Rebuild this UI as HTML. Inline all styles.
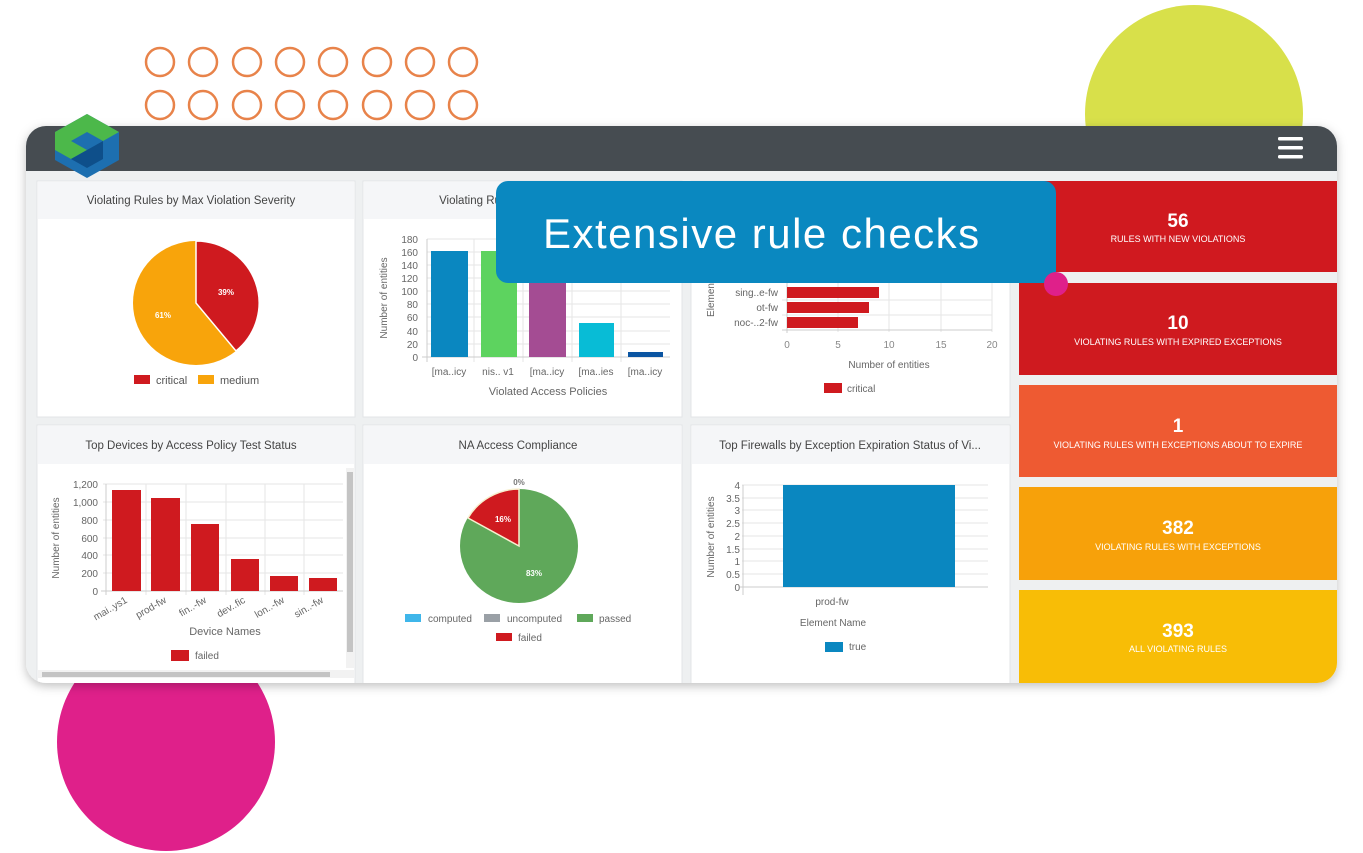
<!DOCTYPE html>
<html><head><meta charset="utf-8"><style>
html,body{margin:0;padding:0;background:#fff;}
svg{display:block;font-family:"Liberation Sans",sans-serif;}
</style></head><body>
<svg width="1363" height="853" viewBox="0 0 1363 853" xmlns="http://www.w3.org/2000/svg">
<defs>
<filter id="sh" x="-5%" y="-5%" width="110%" height="115%"><feDropShadow dx="0" dy="3" stdDeviation="5" flood-color="#000" flood-opacity="0.25"/></filter>
<clipPath id="card"><rect x="26" y="126" width="1311" height="557" rx="20"/></clipPath>
</defs>
<g fill="none" stroke="#e8834a" stroke-width="2.5">
<circle cx="160" cy="62" r="14"/><circle cx="203" cy="62" r="14"/><circle cx="247" cy="62" r="14"/><circle cx="290" cy="62" r="14"/><circle cx="333" cy="62" r="14"/><circle cx="377" cy="62" r="14"/><circle cx="420" cy="62" r="14"/><circle cx="463" cy="62" r="14"/>
<circle cx="160" cy="105" r="14"/><circle cx="203" cy="105" r="14"/><circle cx="247" cy="105" r="14"/><circle cx="290" cy="105" r="14"/><circle cx="333" cy="105" r="14"/><circle cx="377" cy="105" r="14"/><circle cx="420" cy="105" r="14"/><circle cx="463" cy="105" r="14"/>
</g>
<circle cx="1194" cy="114" r="109" fill="#d8e04a"/>
<circle cx="166" cy="742" r="109" fill="#df208a"/>
<rect x="26" y="126" width="1311" height="557" rx="20" fill="#eef0f1" filter="url(#sh)"/>
<g clip-path="url(#card)">
<rect x="26" y="126" width="1311" height="45" fill="#464c51"/>
<g fill="#fff" stroke="#e3e5e7">
<rect x="37" y="181" width="318" height="236"/><rect x="363" y="181" width="319" height="236"/><rect x="691" y="181" width="319" height="236"/>
<rect x="37" y="425" width="318" height="265"/><rect x="363" y="425" width="319" height="265"/><rect x="691" y="425" width="319" height="265"/>
</g>
<g fill="#f5f6f8">
<rect x="38" y="182" width="316" height="37"/><rect x="364" y="182" width="317" height="37"/><rect x="692" y="182" width="317" height="37"/>
<rect x="38" y="426" width="316" height="38"/><rect x="364" y="426" width="317" height="38"/><rect x="692" y="426" width="317" height="38"/>
</g>
<g fill="#444" font-size="11.5" text-anchor="middle">
<text x="191" y="204">Violating Rules by Max Violation Severity</text>
<text x="470" y="204">Violating Ru</text>
<text x="191" y="449">Top Devices by Access Policy Test Status</text>
<text x="518" y="449">NA Access Compliance</text>
<text x="850" y="449">Top Firewalls by Exception Expiration Status of Vi...</text>
</g>
<ellipse cx="196" cy="303" rx="63" ry="62" fill="#f8a40b"/>
<path d="M196,303 L196,241 A63,62 0 0 1 236,351 Z" fill="#cf1a1f" stroke="#fff" stroke-width="1.5"/>
<text x="226" y="295" font-size="8" font-weight="bold" fill="#fff" text-anchor="middle">39%</text>
<text x="163" y="318" font-size="8" font-weight="bold" fill="#fff" text-anchor="middle">61%</text>
<rect x="134" y="375" width="16" height="9" fill="#cf1a1f"/><text x="156" y="384" font-size="11" fill="#555">critical</text>
<rect x="198" y="375" width="16" height="9" fill="#f8a40b"/><text x="220" y="384" font-size="11" fill="#555">medium</text>
<g stroke="#e6e6e6"><line x1="427" y1="239" x2="670" y2="239"/><line x1="427" y1="252" x2="670" y2="252"/><line x1="427" y1="265" x2="670" y2="265"/><line x1="427" y1="278" x2="670" y2="278"/><line x1="427" y1="291" x2="670" y2="291"/><line x1="427" y1="304" x2="670" y2="304"/><line x1="427" y1="317" x2="670" y2="317"/><line x1="427" y1="331" x2="670" y2="331"/><line x1="427" y1="344" x2="670" y2="344"/><line x1="474" y1="239" x2="474" y2="362"/><line x1="523" y1="239" x2="523" y2="362"/><line x1="572" y1="239" x2="572" y2="362"/><line x1="621" y1="239" x2="621" y2="362"/></g>
<line x1="427" y1="239" x2="427" y2="362" stroke="#ccc"/><line x1="422" y1="357" x2="670" y2="357" stroke="#ccc"/>
<g font-size="10" fill="#666" text-anchor="end"><text x="418" y="243">180</text><text x="418" y="256">160</text><text x="418" y="269">140</text><text x="418" y="282">120</text><text x="418" y="295">100</text><text x="418" y="308">80</text><text x="418" y="321">60</text><text x="418" y="335">40</text><text x="418" y="348">20</text><text x="418" y="361">0</text></g>
<rect x="431" y="251" width="37" height="106" fill="#0a87c0"/>
<rect x="481" y="251" width="36" height="106" fill="#5dd35f"/>
<rect x="529" y="251" width="37" height="106" fill="#a44c93"/>
<rect x="579" y="323" width="35" height="34" fill="#08bcd6"/>
<rect x="628" y="352" width="35" height="5" fill="#0b55a2"/>
<g font-size="10" fill="#666" text-anchor="middle"><text x="449" y="375">[ma..icy</text><text x="498" y="375">nis.. v1</text><text x="547" y="375">[ma..icy</text><text x="596" y="375">[ma..ies</text><text x="645" y="375">[ma..icy</text></g>
<text x="548" y="395" font-size="11" fill="#666" text-anchor="middle">Violated Access Policies</text>
<text transform="translate(387,298) rotate(-90)" font-size="10" fill="#666" text-anchor="middle">Number of entities</text>
<g stroke="#e6e6e6"><line x1="838" y1="280" x2="838" y2="332"/><line x1="889" y1="280" x2="889" y2="332"/><line x1="941" y1="280" x2="941" y2="332"/><line x1="992" y1="280" x2="992" y2="332"/><line x1="782" y1="300" x2="992" y2="300"/><line x1="782" y1="315" x2="992" y2="315"/></g>
<line x1="787" y1="280" x2="787" y2="333" stroke="#ccc"/><line x1="782" y1="330" x2="992" y2="330" stroke="#ccc"/>
<rect x="787" y="287" width="92" height="11" fill="#cf1a1f"/>
<rect x="787" y="302" width="82" height="11" fill="#cf1a1f"/>
<rect x="787" y="317" width="71" height="11" fill="#cf1a1f"/>
<g font-size="10" fill="#666" text-anchor="end"><text x="778" y="296">sing..e-fw</text><text x="778" y="311">ot-fw</text><text x="778" y="326">noc-..2-fw</text></g>
<g font-size="10" fill="#888" text-anchor="middle"><text x="787" y="348">0</text><text x="838" y="348">5</text><text x="889" y="348">10</text><text x="941" y="348">15</text><text x="992" y="348">20</text></g>
<text x="889" y="368" font-size="10" fill="#666" text-anchor="middle">Number of entities</text>
<text transform="translate(714,300) rotate(-90)" font-size="10" fill="#666" text-anchor="middle">Elemen</text>
<rect x="824" y="383" width="18" height="10" fill="#cf1a1f"/><text x="847" y="392" font-size="10" fill="#666">critical</text>
<g stroke="#e6e6e6"><line x1="103" y1="484" x2="343" y2="484"/><line x1="103" y1="502" x2="343" y2="502"/><line x1="103" y1="520" x2="343" y2="520"/><line x1="103" y1="538" x2="343" y2="538"/><line x1="103" y1="555" x2="343" y2="555"/><line x1="103" y1="573" x2="343" y2="573"/><line x1="146" y1="484" x2="146" y2="595"/><line x1="186" y1="484" x2="186" y2="595"/><line x1="226" y1="484" x2="226" y2="595"/><line x1="265" y1="484" x2="265" y2="595"/><line x1="304" y1="484" x2="304" y2="595"/></g>
<line x1="106" y1="484" x2="106" y2="595" stroke="#ccc"/><line x1="101" y1="591" x2="343" y2="591" stroke="#ccc"/>
<g font-size="10" fill="#666" text-anchor="end"><text x="98" y="488">1,200</text><text x="98" y="506">1,000</text><text x="98" y="524">800</text><text x="98" y="542">600</text><text x="98" y="559">400</text><text x="98" y="577">200</text><text x="98" y="595">0</text></g>
<g fill="#cf1a1f"><rect x="112" y="490" width="29" height="101"/><rect x="151" y="498" width="29" height="93"/><rect x="191" y="524" width="28" height="67"/><rect x="231" y="559" width="28" height="32"/><rect x="270" y="576" width="28" height="15"/><rect x="309" y="578" width="28" height="13"/></g>
<g font-size="10" fill="#666" text-anchor="end">
<text transform="translate(128,602) rotate(-30)">mai..ys1</text><text transform="translate(167,602) rotate(-30)">prod-fw</text><text transform="translate(207,602) rotate(-30)">fin..-fw</text><text transform="translate(246,602) rotate(-30)">dev..fic</text><text transform="translate(285,602) rotate(-30)">lon..-fw</text><text transform="translate(324,602) rotate(-30)">sin..-fw</text></g>
<text x="225" y="635" font-size="11" fill="#666" text-anchor="middle">Device Names</text>
<text transform="translate(59,538) rotate(-90)" font-size="10" fill="#666" text-anchor="middle">Number of entities</text>
<rect x="171" y="650" width="18" height="11" fill="#cf1a1f"/><text x="195" y="659" font-size="10" fill="#666">failed</text>
<rect x="346" y="468" width="8" height="200" fill="#f2f2f2"/><rect x="347" y="472" width="6" height="180" fill="#c4c4c4"/>
<rect x="38" y="670" width="316" height="8" fill="#f2f2f2"/><rect x="42" y="672" width="288" height="5" fill="#c4c4c4"/>
<ellipse cx="519" cy="546" rx="59" ry="57" fill="#5fa85a"/>
<path d="M519,546 L468,518 A59,57 0 0 1 519,489 Z" fill="#cf1a1f" stroke="#f7f0d0" stroke-width="1.5"/>
<text x="519" y="485" font-size="8" font-weight="bold" fill="#777" text-anchor="middle">0%</text>
<text x="503" y="522" font-size="8" font-weight="bold" fill="#fff" text-anchor="middle">16%</text>
<text x="534" y="576" font-size="8" font-weight="bold" fill="#fff" text-anchor="middle">83%</text>
<rect x="405" y="614" width="16" height="8" fill="#3fb6ea"/><text x="428" y="622" font-size="10" fill="#666">computed</text>
<rect x="484" y="614" width="16" height="8" fill="#9aa0a6"/><text x="507" y="622" font-size="10" fill="#666">uncomputed</text>
<rect x="577" y="614" width="16" height="8" fill="#5fa85a"/><text x="599" y="622" font-size="10" fill="#666">passed</text>
<rect x="496" y="633" width="16" height="8" fill="#cf1a1f"/><text x="518" y="641" font-size="10" fill="#666">failed</text>
<g stroke="#e6e6e6"><line x1="742" y1="485" x2="988" y2="485"/><line x1="742" y1="498" x2="988" y2="498"/><line x1="742" y1="510" x2="988" y2="510"/><line x1="742" y1="523" x2="988" y2="523"/><line x1="742" y1="536" x2="988" y2="536"/><line x1="742" y1="549" x2="988" y2="549"/><line x1="742" y1="561" x2="988" y2="561"/><line x1="742" y1="574" x2="988" y2="574"/></g>
<line x1="743" y1="485" x2="743" y2="595" stroke="#ccc"/><line x1="740" y1="587" x2="988" y2="587" stroke="#ccc"/>
<g font-size="10" fill="#666" text-anchor="end"><text x="740" y="489">4</text><text x="740" y="502">3.5</text><text x="740" y="514">3</text><text x="740" y="527">2.5</text><text x="740" y="540">2</text><text x="740" y="553">1.5</text><text x="740" y="565">1</text><text x="740" y="578">0.5</text><text x="740" y="591">0</text></g>
<rect x="783" y="485" width="172" height="102" fill="#0a87c0"/>
<text x="832" y="605" font-size="10" fill="#666" text-anchor="middle">prod-fw</text>
<text x="833" y="626" font-size="10" fill="#666" text-anchor="middle">Element Name</text>
<text transform="translate(714,537) rotate(-90)" font-size="10" fill="#666" text-anchor="middle">Number of entities</text>
<rect x="825" y="642" width="18" height="10" fill="#0a87c0"/><text x="849" y="650" font-size="10" fill="#666">true</text>
<rect x="1019" y="181" width="318" height="91" fill="#d0191f"/>
<rect x="1019" y="283" width="318" height="92" fill="#cf1a1f"/>
<rect x="1019" y="385" width="318" height="92" fill="#ee5a32"/>
<rect x="1019" y="487" width="318" height="93" fill="#f7a10a"/>
<rect x="1019" y="590" width="318" height="93" fill="#f8bd06"/>
<g fill="#fff" text-anchor="middle">
<text x="1178" y="227" font-size="19" font-weight="bold">56</text><text x="1178" y="242" font-size="9">RULES WITH NEW VIOLATIONS</text>
<text x="1178" y="329" font-size="19" font-weight="bold">10</text><text x="1178" y="345" font-size="9">VIOLATING RULES WITH EXPIRED EXCEPTIONS</text>
<text x="1178" y="432" font-size="19" font-weight="bold">1</text><text x="1178" y="448" font-size="9">VIOLATING RULES WITH EXCEPTIONS ABOUT TO EXPIRE</text>
<text x="1178" y="534" font-size="19" font-weight="bold">382</text><text x="1178" y="550" font-size="9">VIOLATING RULES WITH EXCEPTIONS</text>
<text x="1178" y="637" font-size="19" font-weight="bold">393</text><text x="1178" y="652" font-size="9">ALL VIOLATING RULES</text>
</g>
</g>
<g fill="#fff"><rect x="1278" y="137" width="25" height="3.5" rx="1.5"/><rect x="1278" y="146" width="25" height="3.5" rx="1.5"/><rect x="1278" y="155" width="25" height="3.5" rx="1.5"/></g>
<g>
<polygon points="87,114 119,132 119,160 87,178 55,160 55,132" fill="#1d6fb0"/>
<polygon points="87,114 119,132 103,141 87,132 71,141 87,150 71,159 55,150 55,132" fill="#4cb84a"/>
<polygon points="87,150 103,141 103,159 87,168 71,159" fill="#0e4f8a"/>
</g>
<rect x="496" y="181" width="560" height="102" rx="12" fill="#0a88c0"/>
<text x="543" y="248" font-size="42" fill="#fff" letter-spacing="1.5">Extensive rule checks</text>
<circle cx="1056" cy="284" r="12" fill="#df208a"/>
</svg>
</body></html>
